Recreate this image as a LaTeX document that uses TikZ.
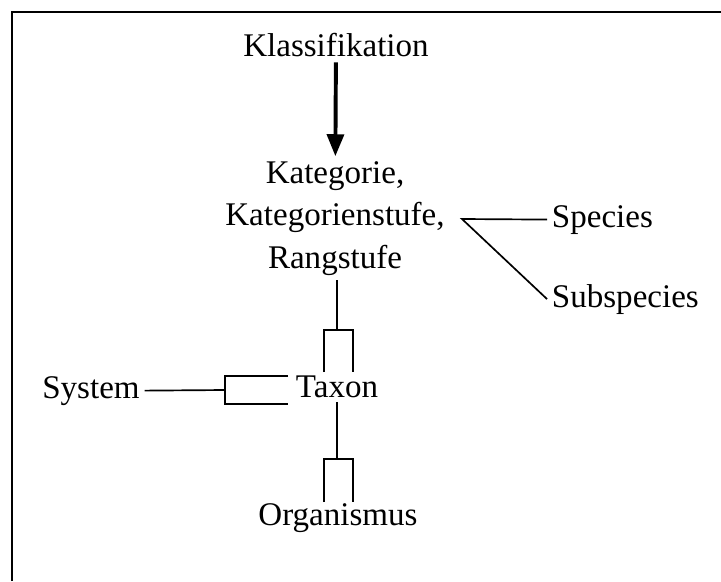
\documentclass[tikz,border=0pt]{standalone}
\usepackage{fontspec}
\setmainfont{Liberation Serif}
\usepackage{tikz}
\usetikzlibrary{arrows.meta, positioning, calc}

\begin{document}
\begin{tikzpicture}[
    term/.style={font=\fontsize{23.5}{30.2}\selectfont, align=center},
    link/.style={line width=1.2pt},
    down/.style={-{Triangle[length=0.55cm,width=0.42cm]}, line width=2.8pt},
    frame/.style={line width=1.8pt}]

\useasboundingbox (0,0) rectangle (18.025,-14.525);

%% Frame (only left and top edge visible)
\draw[frame] (0.3,-14.525) -- (0.3,-0.3) -- (18.025,-0.3);

%% Terms
\node[term, anchor=base] (klass) at (8.4,-1.425) {Klassifikation};
\node[term, anchor=base] (kat) at (8.375,-6.7)
    {Kategorie,\\Kategorienstufe,\\Rangstufe};
\node[term, anchor=base west] (species)    at (13.675,-5.675) {Species};
\node[term, anchor=base west] (subspecies) at (13.675,-7.675) {Subspecies};
\node[term, anchor=base] (taxon)  at (8.425,-9.925) {Taxon};
\node[term, anchor=base] (system) at (2.275,-9.95)  {System};
\node[term, anchor=base] (organismus) at (8.45,-13.125) {Organismus};

%% Helper points
\coordinate (fork) at (11.55,-5.475);
\coordinate (tb)   at (8.425,-8.25);
\coordinate (ob)   at (8.425,-11.475);
\coordinate (sb)   at (5.625,-9.75);

%% Klassifikation -> Kategorie
\draw[down] (klass) -- (kat);

%% Species / Subspecies
\draw[link] (species.west) -- (fork) -- (subspecies.west);

%% Kategorie -- Taxon
\draw[link] (tb |- kat.south) -- (tb);
\draw[link] (tb) ++(-0.325,-1.05) -- ++(0,1.05) -- ++(0.725,0) -- ++(0,-1.05);

%% Taxon -- Organismus
\draw[link] (taxon.south) -- (ob);
\draw[link] (ob) ++(-0.325,-1.075) -- ++(0,1.075) -- ++(0.725,0) -- ++(0,-1.075);

%% System -- Taxon
\draw[link] (system.east) -- (sb);
\draw[link] (sb) ++(1.575,0.35) -- ++(-1.575,0) -- ++(0,-0.7) -- ++(1.575,0);

\end{tikzpicture}
\end{document}
